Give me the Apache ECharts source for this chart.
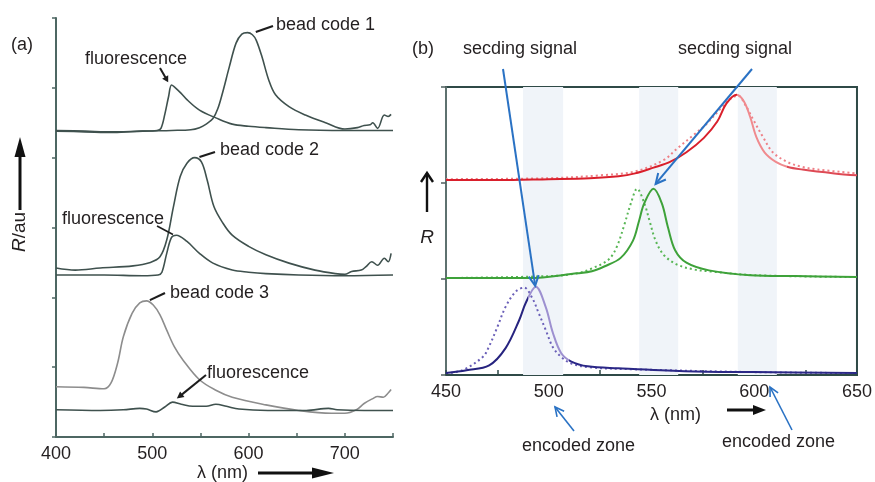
<!DOCTYPE html>
<html>
<head>
<meta charset="utf-8">
<script src="https://cdn.jsdelivr.net/npm/echarts@6/dist/echarts.min.js"></script>
<style>
html,body{margin:0;padding:0;background:#fff;}
#c{width:875px;height:482px;}
</style>
</head>
<body>
<div id="c"></div>
<script>
// ---- (a) reflectance / fluorescence spectra, each pair offset onto its own baseline ----
const fluorA1 = [[400,4.39],[430,4.38],[460,4.37],[490,4.38],[505,4.39],[509,4.42],[513,4.62],[517,4.88],[520,5.04],[524,5.0],[530,4.92],[536,4.83],[549,4.68],[566,4.57],[583,4.48],[600,4.45],[618,4.43],[652,4.40],[700,4.39],[750,4.39]];
const beadA1 = [[400,4.38],[430,4.37],[460,4.36],[490,4.38],[520,4.39],[540,4.40],[549,4.43],[556,4.48],[563,4.56],[568,4.70],[573,4.93],[580,5.30],[587,5.64],[593,5.77],[599,5.79],[604,5.76],[608,5.68],[614,5.44],[621,5.11],[628,4.90],[642,4.73],[659,4.61],[680,4.50],[700,4.41],[713,4.43],[720,4.46],[726,4.47],[729,4.50],[734,4.42],[741,4.61],[745,4.59],[748,4.62]];
const beadA2 = [[400,2.42],[420,2.39],[446,2.42],[480,2.45],[498,2.50],[508,2.58],[515,2.82],[522,3.30],[529,3.73],[536,3.92],[544,4.00],[551,3.94],[557,3.68],[564,3.30],[573,3.07],[583,2.89],[600,2.73],[618,2.61],[642,2.49],[669,2.39],[690,2.34],[700,2.33],[707,2.37],[717,2.39],[722,2.44],[728,2.51],[734,2.46],[741,2.56],[745,2.51],[748,2.63]];
const fluorA2 = [[400,2.32],[450,2.32],[490,2.31],[506,2.32],[510,2.36],[515,2.63],[520,2.86],[525,2.89],[536,2.80],[549,2.63],[563,2.49],[583,2.39],[600,2.36],[618,2.34],[652,2.32],[700,2.31],[750,2.32]];
const beadA3 = [[400,0.72],[429,0.71],[450,0.69],[457,0.77],[464,1.06],[470,1.44],[479,1.77],[487,1.92],[494,1.95],[501,1.89],[508,1.75],[515,1.53],[523,1.29],[532,1.10],[549,0.82],[566,0.67],[583,0.57],[618,0.46],[652,0.38],[686,0.34],[700,0.34],[712,0.39],[720,0.48],[729,0.55],[734,0.58],[740,0.57],[745,0.63],[748,0.68]];
const fluorA3 = [[400,0.39],[446,0.38],[470,0.39],[487,0.41],[494,0.40],[504,0.36],[513,0.43],[521,0.50],[530,0.47],[542,0.44],[556,0.44],[566,0.47],[577,0.44],[590,0.40],[620,0.38],[660,0.38],[683,0.41],[692,0.39],[720,0.38],[750,0.38]];

// ---- (b) spectra before (dotted) and after (solid) the secding signal ----
const redSolid = [[450,2.03],[475,2.03],[500,2.04],[520,2.05],[534,2.07],[542,2.10],[551,2.16],[559,2.22],[567,2.32],[575.5,2.47],[582,2.64],[586.5,2.83],[591.5,2.92],[595,2.85],[598,2.69],[601,2.48],[605,2.32],[610.5,2.22],[616,2.17],[623.5,2.14],[639,2.10],[650,2.08]];
const redDotted = [[450,2.04],[500,2.05],[525,2.08],[542,2.12],[556,2.24],[562.5,2.36],[570.5,2.50],[577,2.62],[583,2.76],[588,2.87],[592,2.91],[596,2.80],[599.5,2.66],[604.5,2.47],[609,2.32],[616,2.22],[623,2.17],[631,2.14],[650,2.10]];
const greenSolid = [[450,1.01],[490,1.01],[514,1.06],[521,1.08],[527,1.13],[535,1.22],[541,1.40],[544,1.61],[546.5,1.79],[551,1.94],[555,1.79],[558,1.54],[561.5,1.30],[567,1.17],[578,1.09],[598,1.04],[620,1.03],[650,1.02]];
const greenDotted = [[450,1.01],[500,1.03],[514,1.06],[521,1.11],[529,1.20],[533,1.33],[537,1.58],[540,1.79],[543,1.94],[546.5,1.79],[549,1.61],[552,1.40],[556,1.25],[562.5,1.15],[570.5,1.10],[578,1.08],[600,1.04],[650,1.02]];
const blueSolid = [[450,0.02],[460,0.05],[471,0.10],[479,0.28],[485.6,0.57],[489,0.76],[493.7,0.92],[498.5,0.71],[502,0.44],[506,0.23],[511,0.14],[519,0.09],[534,0.07],[566,0.04],[600,0.03],[650,0.02]];
const blueDotted = [[450,0.02],[458,0.05],[468,0.19],[471,0.30],[475,0.50],[479,0.71],[484,0.87],[488,0.91],[492,0.80],[495,0.65],[498.5,0.47],[502,0.29],[506,0.19],[511,0.12],[520,0.08],[540,0.06],[600,0.03],[650,0.02]];

// encoded zones (nm) and axis tick labels
const zonesB = [[487.5,507],[544,563],[592,611]];
const tickLabelsA = [400,500,600,700];
const tickLabelsB = [450,500,550,600,650];

const FONT = '"Liberation Sans", Arial, sans-serif';
const INK = '#231f20';
const AXIS = '#4d6763';
const TRACE = '#3f514e';

function lineSeries(name, data, xi, color, width, dotted, z) {
  const ls = { width, type: dotted ? [2, 3] : 'solid' };
  if (color) ls.color = color;
  return {
    name, type: 'line', data, xAxisIndex: xi, yAxisIndex: xi,
    showSymbol: false, smooth: 0.35, z: z || 2,
    lineStyle: ls,
    emphasis: { disabled: true }
  };
}

const series = [
  lineSeries('fluorescence 1', fluorA1, 0, TRACE, 1.6),
  lineSeries('bead code 1', beadA1, 0, TRACE, 1.6),
  lineSeries('bead code 2', beadA2, 0, TRACE, 1.6),
  lineSeries('fluorescence 2', fluorA2, 0, TRACE, 1.6),
  lineSeries('bead code 3', beadA3, 0, '#8d8d8d', 1.6),
  lineSeries('fluorescence 3', fluorA3, 0, TRACE, 1.6),
  lineSeries('red dotted', redDotted, 1, '#ee7f86', 2, true, 3),
  lineSeries('red', redSolid, 1, null, 2, false, 4),
  lineSeries('green dotted', greenDotted, 1, '#58b655', 2, true, 3),
  lineSeries('green', greenSolid, 1, '#3ea23a', 2, false, 4),
  lineSeries('blue dotted', blueDotted, 1, '#6a5fb8', 2, true, 3),
  lineSeries('blue', blueSolid, 1, null, 2, false, 4)
];
// shaded encoded zones behind the (b) traces
series[7].markArea = {
  silent: true,
  itemStyle: { color: '#f0f4f9' },
  data: zonesB.map(z => [{ xAxis: z[0] }, { xAxis: z[1] }])
};

const option = {
  animation: false,
  backgroundColor: '#fff',
  grid: [
    { left: 56, top: 18, width: 337, height: 419 },
    { left: 446, top: 87, width: 416, height: 288, show: true, borderColor: '#2f4a47', borderWidth: 2, backgroundColor: 'transparent' }
  ],
  xAxis: [
    {
      gridIndex: 0, type: 'value', min: 400, max: 750, interval: 50,
      axisLine: { lineStyle: { color: AXIS, width: 2 } },
      axisTick: { inside: true, length: 4, lineStyle: { color: AXIS, width: 1.5 } },
      splitLine: { show: false },
      axisLabel: { color: INK, fontSize: 18, fontFamily: FONT, margin: 8,
        formatter: v => tickLabelsA.includes(v) ? String(v) : '' }
    },
    {
      gridIndex: 1, type: 'value', min: 450, max: 650, interval: 25,
      axisLine: { lineStyle: { color: '#2f4a47', width: 2 } },
      axisTick: { inside: true, length: 5, lineStyle: { color: '#2f4a47', width: 1.5 } },
      splitLine: { show: false },
      axisLabel: { color: INK, fontSize: 18, fontFamily: FONT, margin: 8,
        formatter: v => tickLabelsB.includes(v) ? String(v) : '' }
    }
  ],
  yAxis: [
    {
      gridIndex: 0, type: 'value', min: 0, max: 6, interval: 1,
      axisLine: { show: true, lineStyle: { color: AXIS, width: 2 } },
      axisTick: { show: true, inside: false, length: 4, lineStyle: { color: AXIS, width: 1.5 } },
      axisLabel: { show: false }, splitLine: { show: false }
    },
    {
      gridIndex: 1, type: 'value', min: 0, max: 3, interval: 1,
      axisLine: { show: true, lineStyle: { color: '#6f7f7d', width: 1.5 } },
      axisTick: { show: true, inside: false, length: 5, lineStyle: { color: '#4d5f5d', width: 1.5 } },
      axisLabel: { show: false }, splitLine: { show: false }
    }
  ],
  visualMap: [
    { type: 'piecewise', show: false, seriesIndex: 7, dimension: 0,
      pieces: [{ lt: 591.5, color: '#d91f2b' }, { gte: 591.5, lt: 616, color: '#f08a8e' }, { gte: 616, color: '#de4a55' }] },
    { type: 'piecewise', show: false, seriesIndex: 11, dimension: 0,
      pieces: [{ lt: 490, color: '#26237f' }, { gte: 490, lt: 510, color: '#9d90d0' }, { gte: 510, color: '#2b2886' }] }
  ],
  series
};

const chart = echarts.init(document.getElementById('c'));
chart.setOption(option);

const pxA = p => chart.convertToPixel({ gridIndex: 0 }, p);
const pxB = p => chart.convertToPixel({ gridIndex: 1 }, p);

function label(text, x, y, opts) {
  opts = opts || {};
  return {
    type: 'text', x, y, rotation: opts.rotation || 0, z: 20,
    style: {
      text, fill: opts.color || INK,
      font: (opts.italic ? 'italic ' : '') + (opts.size || 18) + 'px ' + FONT,
      align: opts.align || 'left', textAlign: opts.align || 'left',
      verticalAlign: 'middle', textVerticalAlign: 'middle',
      rich: opts.rich
    }
  };
}

function arrow(from, to, color, width, head) {
  // head: null | {len, half, open}
  const els = [];
  const a = Math.atan2(to[1] - from[1], to[0] - from[0]);
  let end = to;
  if (head && !head.open) end = [to[0] - head.len * Math.cos(a) * 0.9, to[1] - head.len * Math.sin(a) * 0.9];
  els.push({ type: 'line', z: 20, shape: { x1: from[0], y1: from[1], x2: end[0], y2: end[1] },
    style: { stroke: color, lineWidth: width, lineCap: 'butt' } });
  if (head) {
    const bx = to[0] - head.len * Math.cos(a), by = to[1] - head.len * Math.sin(a);
    const nx = -Math.sin(a) * head.half, ny = Math.cos(a) * head.half;
    const pts = [[bx + nx, by + ny], [to[0], to[1]], [bx - nx, by - ny]];
    if (head.open) {
      els.push({ type: 'polyline', z: 20, shape: { points: pts },
        style: { stroke: color, lineWidth: head.w || width, fill: null, lineJoin: 'miter' } });
    } else {
      els.push({ type: 'polygon', z: 20, shape: { points: pts }, style: { fill: color } });
    }
  }
  return els;
}

const BLUE = '#2a72c4';
const g = [];
// panel (a) annotations
g.push(label('(a)', 11, 45));
g.push(label('fluorescence', 85, 59));
g.push(label('bead code 1', 276, 25));
g.push(label('bead code 2', 220, 150));
g.push(label('fluorescence', 62, 219));
g.push(label('bead code 3', 170, 293));
g.push(label('fluorescence', 207, 373));
g.push(label('{i|R}/au', 20, 232, { rotation: Math.PI / 2, align: 'center', size: 19,
  rich: { i: { fontStyle: 'italic', fontSize: 19, fontFamily: FONT, fill: INK } } }));
g.push(label('λ (nm)', 197, 473));
g.push(...arrow([160, 68], pxA([516.5, 5.08]), '#1d1d1d', 2, { len: 6, half: 3.5 }));
g.push(...arrow([273, 26], pxA([607.5, 5.80]), '#1d1d1d', 2.2, null));
g.push(...arrow([215, 152], pxA([549, 4.01]), '#1d1d1d', 2.2, null));
g.push(...arrow([157, 226], pxA([521.5, 2.90]), '#1d1d1d', 1.6, null));
g.push(...arrow([165, 293], pxA([497.5, 1.96]), '#1d1d1d', 2.2, null));
g.push(...arrow([206, 375], pxA([525.5, 0.55]), '#1d1d1d', 2, { len: 7, half: 3.5 }));
g.push(...arrow([20, 210], [20, 137], '#111', 3, { len: 20, half: 5.5 }));
g.push(...arrow([258, 473], [334, 473], '#111', 3, { len: 22, half: 5.5 }));

// panel (b) annotations
g.push(label('(b)', 412, 49));
g.push(label('secding signal', 463, 49));
g.push(label('secding signal', 678, 49));
g.push(label('R', 427, 238, { italic: true, align: 'center', size: 19 }));
g.push(label('λ (nm)', 650, 415));
g.push(label('encoded zone', 522, 446));
g.push(label('encoded zone', 722, 442));
g.push(...arrow([503, 69], pxB([493.4, 0.93]), BLUE, 2, { len: 10, half: 5, open: true }));
g.push(...arrow([752, 69], pxB([552, 1.99]), BLUE, 2, { len: 10, half: 5, open: true }));
g.push(...arrow([574, 431], [555, 407], BLUE, 1.6, { len: 9, half: 4.5, open: true }));
g.push(...arrow([792, 430], [770, 387], BLUE, 1.6, { len: 9, half: 4.5, open: true }));
g.push(...arrow([427, 212], [427, 173], '#111', 2.4, { len: 9, half: 6, open: true, w: 2.4 }));
g.push(...arrow([727, 410], [766, 410], '#111', 3, { len: 13, half: 5 }));

chart.setOption({ graphic: { elements: g } });
</script>
</body>
</html>
